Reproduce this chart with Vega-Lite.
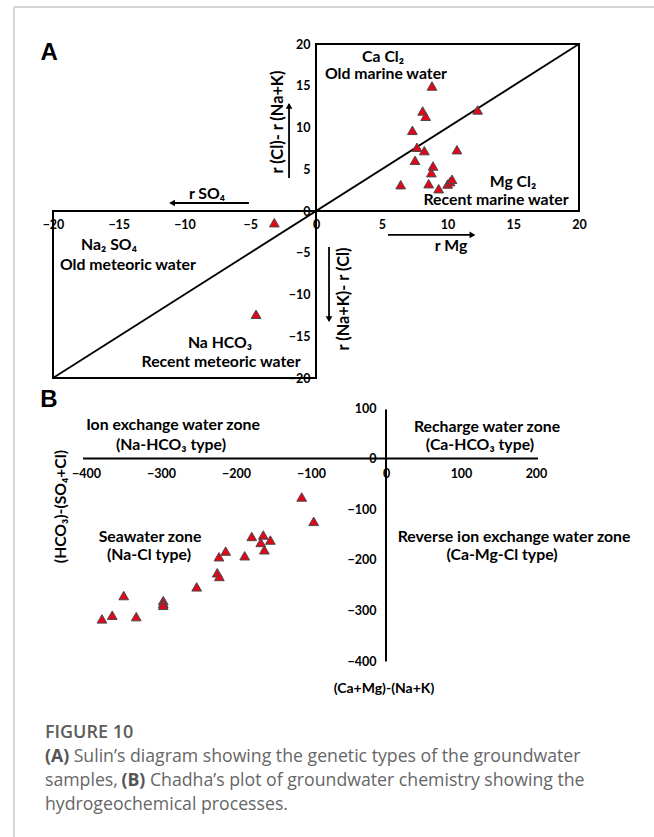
{
  "$schema": "https://vega.github.io/schema/vega-lite/v6.json",
  "padding": {"left": 12, "top": 6, "right": 0, "bottom": 0},
  "background": "white",
  "spacing": 30,
  "bounds": "flush",
  "config": {
    "view": {"stroke": null},
    "text": {"font": "Lato", "fontWeight": "bold", "fontSize": 15.8, "color": "black"},
    "axis": {"domain": false, "ticks": false, "tickSize": 0, "grid": false, "labelFont": "Lato", "labelFontWeight": "bold", "labelFontSize": 12.5, "labelColor": "black", "labelOverlap": false, "labelFlush": false}
  },
  "datasets": {
    "frameA": [
      {"x": -22.97, "y": 24.43, "x2": -22.97, "y2": -76},
      {"x": -22.97, "y": 24.43, "x2": 26, "y2": 24.43}
    ],
    "boxesA": [
      {"x": 0, "y": 0, "x2": 20, "y2": 20},
      {"x": -20, "y": -20, "x2": 0, "y2": 0}
    ],
    "linesA": [
      {"x": -20, "y": -20, "x2": 20, "y2": 20},
      {"x": -2.05, "y": 3.95, "x2": -2.05, "y2": 12.8},
      {"x": -5.1, "y": 0.96, "x2": -11.0, "y2": 0.96},
      {"x": 5.48, "y": -2.87, "x2": 11.9, "y2": -2.87},
      {"x": 0.99, "y": -4.31, "x2": 0.99, "y2": -13.1}
    ],
    "headsA": [
      {"x": -2.05, "y": 12.6, "d": "up"},
      {"x": -10.95, "y": 0.96, "d": "left"},
      {"x": 11.9, "y": -2.87, "d": "right"},
      {"x": 0.99, "y": -12.95, "d": "down"}
    ],
    "pointsA": [
      {"x": 8.82, "y": 14.97}, {"x": 8.11, "y": 11.98}, {"x": 8.34, "y": 11.34}, {"x": 12.29, "y": 12.1},
      {"x": 7.33, "y": 9.66}, {"x": 7.68, "y": 7.63}, {"x": 8.24, "y": 7.23}, {"x": 10.72, "y": 7.34},
      {"x": 7.53, "y": 6.07}, {"x": 8.9, "y": 5.39}, {"x": 8.77, "y": 4.59}, {"x": 6.44, "y": 3.15},
      {"x": 8.57, "y": 3.27}, {"x": 9.33, "y": 2.67}, {"x": 10.01, "y": 3.23}, {"x": 10.19, "y": 3.51},
      {"x": 10.34, "y": 3.8}, {"x": -3.17, "y": -1.4}, {"x": -4.56, "y": -12.37}
    ],
    "textA": [
      {"x": 5.1, "y": 18.44, "t": "Ca Cl₂"},
      {"x": 5.32, "y": 16.4, "t": "Old marine water"},
      {"x": 14.98, "y": 3.47, "t": "Mg Cl₂"},
      {"x": 13.69, "y": 1.32, "t": "Recent marine water"},
      {"x": -15.74, "y": -4.07, "t": "Na₂ SO₄"},
      {"x": -14.3, "y": -6.47, "t": "Old meteoric water"},
      {"x": -7.3, "y": -15.8, "t": "Na HCO₃"},
      {"x": -7.22, "y": -18.08, "t": "Recent meteoric water"},
      {"x": -8.29, "y": 2.04, "t": "r SO₄"},
      {"x": 10.27, "y": -4.19, "t": "r Mg"}
    ],
    "rotA": [
      {"x": -2.89, "y": 10.66, "t": "r (Cl)- r (Na+K)"},
      {"x": 2.13, "y": -10.54, "t": "r (Na+K)- r (Cl)"}
    ],
    "letterA": [{"x": -20.3, "y": 18.9, "t": "A"}],
    "linesB": [
      {"x": -404, "y": 0, "x2": 202.7, "y2": 0},
      {"x": 0, "y": 96.8, "x2": 0, "y2": -401}
    ],
    "pointsB": [
      {"x": -112.4, "y": -75.9}, {"x": -96.4, "y": -124}, {"x": -179, "y": -153.8}, {"x": -163.6, "y": -151},
      {"x": -154.2, "y": -161}, {"x": -167, "y": -165.7}, {"x": -162.2, "y": -180.2}, {"x": -188.4, "y": -192},
      {"x": -213.8, "y": -182.8}, {"x": -222.7, "y": -194}, {"x": -225, "y": -225.7}, {"x": -222.2, "y": -233},
      {"x": -252.4, "y": -253.5}, {"x": -349.7, "y": -270.7}, {"x": -297, "y": -280.6}, {"x": -297, "y": -286},
      {"x": -297, "y": -290}, {"x": -378.7, "y": -316.8}, {"x": -365, "y": -309.5}, {"x": -333, "y": -312.3}
    ],
    "textB": [
      {"x": -284, "y": 67.2, "t": "Ion exchange water zone"},
      {"x": -286.7, "y": 27.7, "t": "(Na-HCO₃ type)"},
      {"x": 134.7, "y": 63.2, "t": "Recharge water zone"},
      {"x": 125.3, "y": 27.7, "t": "(Ca-HCO₃ type)"},
      {"x": -314.7, "y": -154.2, "t": "Seawater zone"},
      {"x": -316, "y": -189.7, "t": "(Na-Cl type)"},
      {"x": 170.7, "y": -154.2, "t": "Reverse ion exchange water zone"},
      {"x": 154.7, "y": -189.7, "t": "(Ca-Mg-Cl type)"}
    ],
    "titleB": [{"x": -2.7, "y": -454.5, "t": "(Ca+Mg)-(Na+K)"}],
    "rotB": [{"x": -433.3, "y": -94.9, "t": "(HCO₃)-(SO₄+Cl)"}],
    "letterB": [{"x": -449.3, "y": 116.6, "t": "B"}],
    "figB": [{"x": -454.7, "y": -541.5, "t": "FIGURE 10"}],
    "capBold": [
      {"x": -454.7, "y": -589, "t": "(A)"},
      {"x": -352.7, "y": -636.4, "t": "(B)"}
    ],
    "capB": [
      {"x": -416.5, "y": -589, "t": "Sulin’s diagram showing the genetic types of the groundwater"},
      {"x": -454.7, "y": -636.4, "t": "samples,"},
      {"x": -314.8, "y": -636.4, "t": "Chadha’s plot of groundwater chemistry showing the"},
      {"x": -454.7, "y": -683.8, "t": "hydrogeochemical processes."}
    ]
  },
  "vconcat": [
    {
      "width": 526,
      "height": 334,
      "layer": [
        {
          "data": {"name": "frameA"},
          "mark": {"type": "rule", "color": "#d4d4d4", "strokeWidth": 2},
          "encoding": {
            "x": {"field": "x", "type": "quantitative", "scale": {"domain": [-20, 20], "nice": false, "zero": false}, "title": null,
                  "axis": {"values": [-20, -15, -10, -5, 0, 5, 10, 15, 20], "offset": -167, "labelPadding": 7, "title": null}},
            "y": {"field": "y", "type": "quantitative", "scale": {"domain": [-20, 20], "nice": false, "zero": false}, "title": null,
                  "axis": {"values": [-20, -15, -10, -5, 0, 5, 10, 15, 20], "offset": -263, "labelPadding": 6, "title": null}},
            "x2": {"field": "x2"},
            "y2": {"field": "y2"}
          }
        },
        {
          "data": {"name": "boxesA"},
          "mark": {"type": "rect", "fillOpacity": 0, "stroke": "black", "strokeWidth": 2},
          "encoding": {
            "x": {"field": "x", "type": "quantitative", "scale": {"domain": [-20, 20]}, "title": null},
            "y": {"field": "y", "type": "quantitative", "scale": {"domain": [-20, 20]}, "title": null},
            "x2": {"field": "x2"},
            "y2": {"field": "y2"}
          }
        },
        {
          "data": {"name": "linesA"},
          "mark": {"type": "rule", "color": "black", "strokeWidth": 1.8},
          "encoding": {
            "x": {"field": "x", "type": "quantitative", "scale": {"domain": [-20, 20]}, "title": null},
            "y": {"field": "y", "type": "quantitative", "scale": {"domain": [-20, 20]}, "title": null},
            "x2": {"field": "x2"},
            "y2": {"field": "y2"}
          }
        },
        {
          "data": {"name": "headsA"},
          "mark": {"type": "point", "filled": true, "color": "black", "size": 45, "opacity": 1},
          "encoding": {
            "x": {"field": "x", "type": "quantitative", "scale": {"domain": [-20, 20]}, "title": null},
            "y": {"field": "y", "type": "quantitative", "scale": {"domain": [-20, 20]}, "title": null},
            "shape": {"field": "d", "type": "nominal", "legend": null,
                      "scale": {"domain": ["up", "down", "left", "right"], "range": ["triangle-up", "triangle-down", "triangle-left", "triangle-right"]}}
          }
        },
        {
          "data": {"name": "pointsA"},
          "mark": {"type": "point", "shape": "triangle-up", "filled": true, "fill": "#e3061a", "stroke": "#4a4a4a", "strokeWidth": 1, "size": 95, "opacity": 1},
          "encoding": {
            "x": {"field": "x", "type": "quantitative", "scale": {"domain": [-20, 20]}, "title": null},
            "y": {"field": "y", "type": "quantitative", "scale": {"domain": [-20, 20]}, "title": null}
          }
        },
        {
          "data": {"name": "textA"},
          "mark": {"type": "text", "align": "center", "baseline": "middle"},
          "encoding": {
            "x": {"field": "x", "type": "quantitative", "scale": {"domain": [-20, 20]}, "title": null},
            "y": {"field": "y", "type": "quantitative", "scale": {"domain": [-20, 20]}, "title": null},
            "text": {"field": "t"}
          }
        },
        {
          "data": {"name": "rotA"},
          "mark": {"type": "text", "align": "center", "baseline": "middle", "angle": 270, "fontSize": 16.3},
          "encoding": {
            "x": {"field": "x", "type": "quantitative", "scale": {"domain": [-20, 20]}, "title": null},
            "y": {"field": "y", "type": "quantitative", "scale": {"domain": [-20, 20]}, "title": null},
            "text": {"field": "t"}
          }
        },
        {
          "data": {"name": "letterA"},
          "mark": {"type": "text", "align": "center", "baseline": "middle", "font": "Liberation Sans", "fontSize": 24},
          "encoding": {
            "x": {"field": "x", "type": "quantitative", "scale": {"domain": [-20, 20]}, "title": null},
            "y": {"field": "y", "type": "quantitative", "scale": {"domain": [-20, 20]}, "title": null},
            "text": {"field": "t"}
          }
        }
      ]
    },
    {
      "width": 483,
      "height": 253,
      "layer": [
        {
          "data": {"name": "linesB"},
          "mark": {"type": "rule", "color": "black", "strokeWidth": 2},
          "encoding": {
            "x": {"field": "x", "type": "quantitative", "scale": {"domain": [-444, 200], "nice": false, "zero": false}, "title": null,
                  "axis": {"values": [-400, -300, -200, -100, 0, 100, 200], "offset": -202.4, "labelPadding": 9, "title": null}},
            "y": {"field": "y", "type": "quantitative", "scale": {"domain": [-400, 100], "nice": false, "zero": false}, "title": null,
                  "axis": {"values": [-400, -300, -200, -100, 0, 100], "offset": -333, "labelPadding": 10, "title": null}},
            "x2": {"field": "x2"},
            "y2": {"field": "y2"}
          }
        },
        {
          "data": {"name": "pointsB"},
          "mark": {"type": "point", "shape": "triangle-up", "filled": true, "fill": "#e3061a", "stroke": "#4a4a4a", "strokeWidth": 1, "size": 95, "opacity": 1},
          "encoding": {
            "x": {"field": "x", "type": "quantitative", "scale": {"domain": [-444, 200]}, "title": null},
            "y": {"field": "y", "type": "quantitative", "scale": {"domain": [-400, 100]}, "title": null}
          }
        },
        {
          "data": {"name": "textB"},
          "mark": {"type": "text", "align": "center", "baseline": "middle"},
          "encoding": {
            "x": {"field": "x", "type": "quantitative", "scale": {"domain": [-444, 200]}, "title": null},
            "y": {"field": "y", "type": "quantitative", "scale": {"domain": [-400, 100]}, "title": null},
            "text": {"field": "t"}
          }
        },
        {
          "data": {"name": "titleB"},
          "mark": {"type": "text", "align": "center", "baseline": "middle", "fontSize": 14},
          "encoding": {
            "x": {"field": "x", "type": "quantitative", "scale": {"domain": [-444, 200]}, "title": null},
            "y": {"field": "y", "type": "quantitative", "scale": {"domain": [-400, 100]}, "title": null},
            "text": {"field": "t"}
          }
        },
        {
          "data": {"name": "rotB"},
          "mark": {"type": "text", "align": "center", "baseline": "middle", "angle": 270, "fontSize": 15.7},
          "encoding": {
            "x": {"field": "x", "type": "quantitative", "scale": {"domain": [-444, 200]}, "title": null},
            "y": {"field": "y", "type": "quantitative", "scale": {"domain": [-400, 100]}, "title": null},
            "text": {"field": "t"}
          }
        },
        {
          "data": {"name": "letterB"},
          "mark": {"type": "text", "align": "center", "baseline": "middle", "font": "Liberation Sans", "fontSize": 24},
          "encoding": {
            "x": {"field": "x", "type": "quantitative", "scale": {"domain": [-444, 200]}, "title": null},
            "y": {"field": "y", "type": "quantitative", "scale": {"domain": [-400, 100]}, "title": null},
            "text": {"field": "t"}
          }
        },
        {
          "data": {"name": "figB"},
          "mark": {"type": "text", "align": "left", "baseline": "middle", "font": "Open Sans", "fontWeight": 600, "fontSize": 18, "color": "#5c5c5c"},
          "encoding": {
            "x": {"field": "x", "type": "quantitative", "scale": {"domain": [-444, 200]}, "title": null},
            "y": {"field": "y", "type": "quantitative", "scale": {"domain": [-400, 100]}, "title": null},
            "text": {"field": "t"}
          }
        },
        {
          "data": {"name": "capBold"},
          "mark": {"type": "text", "align": "left", "baseline": "middle", "font": "Open Sans", "fontWeight": "bold", "fontSize": 17.7, "color": "#555555"},
          "encoding": {
            "x": {"field": "x", "type": "quantitative", "scale": {"domain": [-444, 200]}, "title": null},
            "y": {"field": "y", "type": "quantitative", "scale": {"domain": [-400, 100]}, "title": null},
            "text": {"field": "t"}
          }
        },
        {
          "data": {"name": "capB"},
          "mark": {"type": "text", "align": "left", "baseline": "middle", "font": "Open Sans", "fontWeight": "normal", "fontSize": 17.7, "color": "#666666"},
          "encoding": {
            "x": {"field": "x", "type": "quantitative", "scale": {"domain": [-444, 200]}, "title": null},
            "y": {"field": "y", "type": "quantitative", "scale": {"domain": [-400, 100]}, "title": null},
            "text": {"field": "t"}
          }
        }
      ]
    }
  ]
}
